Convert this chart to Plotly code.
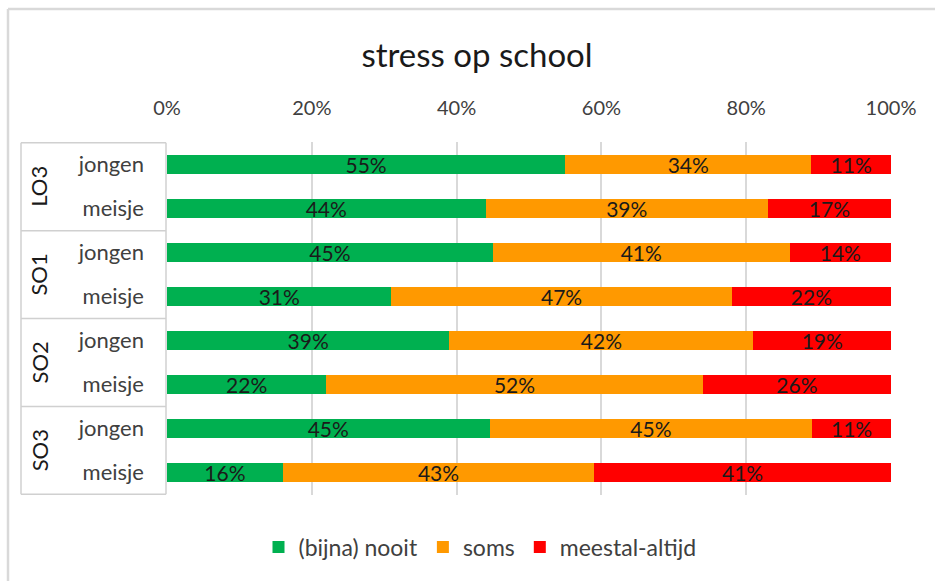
import plotly.graph_objects as go

# ---- data ----
groups = ["LO3", "SO1", "SO2", "SO3"]
sexes = ["jongen", "meisje"]
nooit = [55, 44, 45, 31, 39, 22, 45, 16]
soms = [34, 39, 41, 47, 42, 52, 45, 43]
altijd = [11, 17, 14, 22, 19, 26, 11, 41]
series_names = ["(bijna) nooit", "soms", "meestal-altijd"]
x_ticks = [0, 20, 40, 60, 80, 100]
x_tick_labels = ["0%", "20%", "40%", "60%", "80%", "100%"]

colors = ["#00B050", "#FF9900", "#FF0000"]

cats = [f"{g} {s}" for g in groups for s in sexes]
sub_labels = [s for g in groups for s in sexes]

W, H = 935, 581
ML, MR, MT, MB = 167, 44, 142, 86
PW, PH = W - ML - MR, H - MT - MB


def px_x(px):
    return (px - ML) / PW


def px_y(py):
    return (H - MB - py) / PH


FONT = "Lato"
fig = go.Figure()
for name, vals, col in zip(series_names, [nooit, soms, altijd], colors):
    fig.add_trace(go.Bar(
        y=cats, x=vals, name=name, orientation="h",
        marker=dict(color=col, line=dict(width=0)),
        text=[f"{v}%" for v in vals], textposition="inside",
        insidetextanchor="middle",
        textfont=dict(family=FONT, size=21, color="#1a1a1a"),
        constraintext="none", cliponaxis=False,
    ))

shapes = []
line_col = "#d0d0d0"
# category box
bx0, bx1 = px_x(21), px_x(166)
for b in [-0.5, 1.5, 3.5, 5.5, 7.5]:
    shapes.append(dict(type="line", xref="paper", yref="y", x0=bx0, x1=bx1,
                       y0=b, y1=b, line=dict(color=line_col, width=1.5)))
for xx in [bx0, bx1]:
    shapes.append(dict(type="line", xref="paper", yref="y", x0=xx, x1=xx,
                       y0=-0.5, y1=7.5, line=dict(color=line_col, width=1.5)))
# chart border (top and left)
shapes.append(dict(type="line", xref="paper", yref="paper", x0=px_x(8), x1=px_x(W + 5),
                   y0=px_y(9), y1=px_y(9), line=dict(color="#d9d9d9", width=2.5)))
shapes.append(dict(type="line", xref="paper", yref="paper", x0=px_x(8), x1=px_x(8),
                   y0=px_y(9), y1=px_y(H + 5), line=dict(color="#d9d9d9", width=2.5)))

annotations = []
for i, g in enumerate(groups):
    annotations.append(dict(text=g, xref="paper", yref="y", x=px_x(39), y=2 * i + 0.5,
                            textangle=-90, showarrow=False,
                            font=dict(family=FONT, size=22, color="#1a1a1a"),
                            xanchor="center", yanchor="middle"))

fig.update_layout(
    width=W, height=H,
    margin=dict(l=ML, r=MR, t=MT, b=MB),
    barmode="stack", barnorm="percent", bargap=0.57,
    paper_bgcolor="white", plot_bgcolor="white",
    title=dict(text="stress op school", x=px_x(477), xref="paper", xanchor="center",
               y=1 - 55 / H, yref="container", yanchor="middle",
               font=dict(family=FONT, size=33, color="#1a1a1a")),
    xaxis=dict(side="top", range=[0, 100], tickmode="array", tickvals=x_ticks,
               ticktext=x_tick_labels,
               showgrid=True, gridcolor="#d9d9d9", gridwidth=1.5, zeroline=False,
               showline=False, ticks="", ticklabelstandoff=22,
               tickfont=dict(family=FONT, size=20, color="#404040"), fixedrange=True),
    yaxis=dict(type="category", categoryorder="array", categoryarray=cats,
               autorange="reversed", tickvals=cats, ticktext=sub_labels,
               showgrid=False, zeroline=False, showline=False, ticks="",
               ticklabelstandoff=22,
               tickfont=dict(family=FONT, size=22, color="#404040")),
    legend=dict(orientation="h", x=px_x(480), xref="paper",
                xanchor="center", y=px_y(547), yanchor="middle",
                font=dict(family=FONT, size=23, color="#404040"), traceorder="normal"),
    uniformtext=dict(minsize=21, mode="show"),
    shapes=shapes, annotations=annotations,
    showlegend=True,
)

fig.write_html("out.html", config={"displayModeBar": False},
               post_script="document.body.style.margin='0';document.body.style.overflow='hidden';")
